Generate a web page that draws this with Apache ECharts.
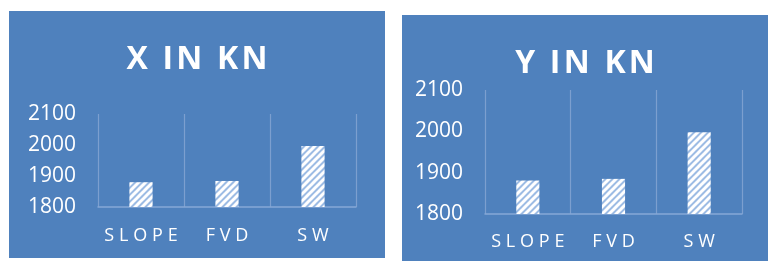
<!DOCTYPE html>
<html>
<head>
<meta charset="utf-8">
<script src="https://cdn.jsdelivr.net/npm/echarts@6/dist/echarts.min.js"></script>
<style>
  html, body { margin: 0; padding: 0; background: #fff; }
  .panel { position: absolute; background: #4f81bd; }
  #chart-x { left: 9px; top: 11px; width: 376px; height: 247px; }
  #chart-y { left: 402px; top: 15px; width: 366px; height: 246px; }
</style>
</head>
<body>
<div id="chart-x" class="panel"></div>
<div id="chart-y" class="panel"></div>
<script>
// data
var categories = ['SLOPE', 'FVD', 'SW'];
var xValues = [1880, 1884, 1997];
var yValues = [1881, 1885, 1998];
var yTicks = { min: 1800, max: 2100, interval: 100 };

(function () {
    'use strict';

    // hatch pattern for bars
    function hatch() {
        var s = 7;
        var c = document.createElement('canvas');
        c.width = s; c.height = s;
        var g = c.getContext('2d');
        g.fillStyle = '#9dbce4';
        g.fillRect(0, 0, s, s);
        g.strokeStyle = '#ffffff';
        g.lineWidth = 3;
        g.beginPath();
        g.moveTo(-1, s + 1); g.lineTo(s + 1, -1);
        g.moveTo(-1, 1); g.lineTo(1, -1);
        g.moveTo(s - 1, s + 1); g.lineTo(s + 1, s - 1);
        g.stroke();
        return c;
    }

    function makeOption(title, values, grid, titleTop, labelMargin) {
        return {
            animation: false,
            title: {
                text: title.split('').join('\u200a'),
                left: 'center',
                top: titleTop,
                textStyle: {
                    color: '#fff',
                    fontFamily: 'Open Sans',
                    fontWeight: 'bold',
                    fontSize: 32
                }
            },
            grid: grid,
            xAxis: {
                type: 'category',
                data: categories,
                axisLine: { lineStyle: { color: '#86a8d6', width: 1.5 } },
                axisTick: { show: false },
                splitLine: { show: true, lineStyle: { color: '#7c9fcf', width: 1.2 } },
                axisLabel: {
                    interval: 0,
                    color: '#fff',
                    fontFamily: 'Open Sans',
                    fontSize: 18,
                    margin: labelMargin,
                    formatter: function (v) { return v.split('').join('\u2009\u200a'); }
                }
            },
            yAxis: {
                type: 'value',
                min: yTicks.min,
                max: yTicks.max,
                interval: yTicks.interval,
                axisLine: { show: false },
                axisTick: { show: false },
                splitLine: { show: false },
                axisLabel: {
                    color: '#fff',
                    fontFamily: 'Open Sans',
                    fontSize: 21,
                    margin: 22,
                    formatter: function (v) { return String(v); }
                }
            },
            series: [{
                type: 'bar',
                data: values,
                barWidth: '27%',
                itemStyle: { color: { image: hatch(), repeat: 'repeat' } }
            }]
        };
    }

    var chartX = echarts.init(document.getElementById('chart-x'));
    chartX.setOption(makeOption('X IN KN', xValues,
        { left: 89, right: 29, top: 103, bottom: 51 }, 28, 20));

    var chartY = echarts.init(document.getElementById('chart-y'));
    chartY.setOption(makeOption('Y IN KN', yValues,
        { left: 83, right: 26, top: 75, bottom: 47 }, 28, 19));

    window.addEventListener('resize', function () {
        chartX.resize();
        chartY.resize();
    });
})();
</script>
</body>
</html>
